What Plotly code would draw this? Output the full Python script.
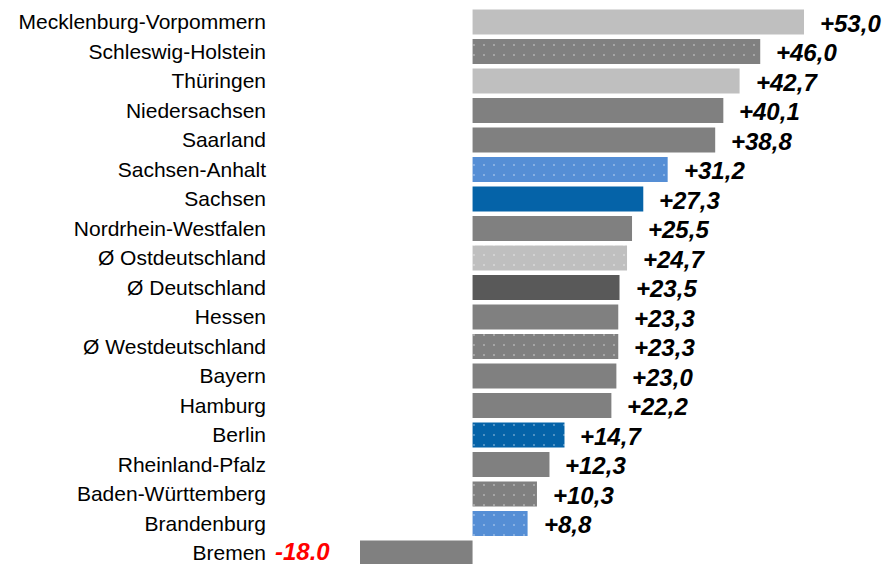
import plotly.graph_objects as go

regions = ["Mecklenburg-Vorpommern", "Schleswig-Holstein", "Thüringen", "Niedersachsen",
           "Saarland", "Sachsen-Anhalt", "Sachsen", "Nordrhein-Westfalen",
           "Ø Ostdeutschland", "Ø Deutschland", "Hessen", "Ø Westdeutschland",
           "Bayern", "Hamburg", "Berlin", "Rheinland-Pfalz", "Baden-Württemberg",
           "Brandenburg", "Bremen"]
values = [53.0, 46.0, 42.7, 40.1, 38.8, 31.2, 27.3, 25.5, 24.7, 23.5, 23.3, 23.3,
          23.0, 22.2, 14.7, 12.3, 10.3, 8.8, -18.0]
value_labels = ["+53,0", "+46,0", "+42,7", "+40,1", "+38,8", "+31,2", "+27,3", "+25,5",
                "+24,7", "+23,5", "+23,3", "+23,3", "+23,0", "+22,2", "+14,7", "+12,3",
                "+10,3", "+8,8", "-18.0"]
colors = ["#BFBFBF", "#808080", "#BFBFBF", "#808080", "#808080", "#558ED5", "#0563A8",
          "#808080", "#BFBFBF", "#595959", "#808080", "#808080", "#808080", "#808080",
          "#0563A8", "#808080", "#808080", "#558ED5", "#808080"]
dotted = [False, True, False, False, False, True, False, False, True, False, False, True,
          False, False, True, False, True, True, False]

ypos = list(range(len(regions)))
FONT = "Arial, Liberation Sans, sans-serif"

fig = go.Figure()
for y, v, c, d in zip(ypos, values, colors, dotted):
    marker = dict(color=c, line=dict(width=0))
    if d:
        marker["pattern"] = dict(shape=".", fillmode="replace", bgcolor=c,
                                 fgcolor="#FFFFFF", fgopacity=0.4, size=10, solidity=0.03)
    fig.add_trace(go.Bar(x=[v], y=[y], orientation="h", width=0.85,
                         marker=marker, hoverinfo="skip"))

for y, v, lab in zip(ypos, values, value_labels):
    neg = v < 0
    fig.add_annotation(
        x=v, y=y, xref="x", yref="y", text="<b><i>" + lab + "</i></b>",
        showarrow=False, xanchor="right" if neg else "left",
        xshift=-28 if neg else 14, yshift=2 if neg else -1,
        font=dict(family=FONT, size=24, color="#FF0000" if neg else "#000000"),
    )

px_per_unit = (804 - 360) / 71.0
left = 269
xmin = -18 - (360 - left) / px_per_unit
xmax = xmin + (896 - left) / px_per_unit

fig.update_layout(
    width=896, height=564,
    margin=dict(l=left, r=0, t=0, b=0, autoexpand=False),
    paper_bgcolor="white", plot_bgcolor="white",
    showlegend=False, barmode="overlay",
    xaxis=dict(range=[xmin, xmax], visible=False, fixedrange=True),
    yaxis=dict(range=[18.373, -0.746], tickmode="array", tickvals=ypos, ticktext=regions,
               showgrid=False, zeroline=False, showline=False, ticks="",
               automargin=False, ticklabeloverflow="allow", fixedrange=True,
               tickfont=dict(family=FONT, size=21, color="#000000"),
               ticklabelstandoff=2),
)

fig.write_html("out.html", config={"displayModeBar": False},
               post_script="document.body.style.margin='0px';")
